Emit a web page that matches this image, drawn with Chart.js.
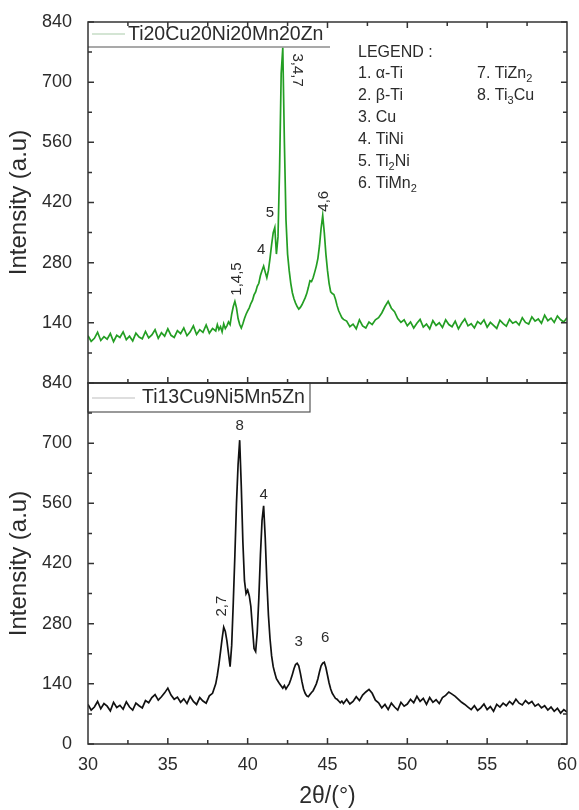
<!DOCTYPE html>
<html>
<head>
<meta charset="utf-8">
<script src="https://cdn.jsdelivr.net/npm/chart.js@4.4.1/dist/chart.umd.min.js"></script>
<style>
  html, body { margin: 0; padding: 0; background: #fff; }
</style>
</head>
<body>
<canvas id="xrd" width="579" height="810"></canvas>
<script>
const topColor = '#239e23';
const bottomColor = '#111111';
const textColor = '#2b2b2b';

const sampleTop = 'Ti20Cu20Ni20Mn20Zn';
const sampleBottom = 'Ti13Cu9Ni5Mn5Zn';

// 2theta positions (deg)
const angles = [
    30, 30.2, 30.4, 30.6, 30.8, 31, 31.2, 31.4, 31.6, 31.8,
    32, 32.2, 32.4, 32.6, 32.8, 33, 33.2, 33.4, 33.6, 33.8,
    34, 34.2, 34.4, 34.6, 34.8, 35, 35.2, 35.4, 35.6, 35.8,
    36, 36.2, 36.4, 36.6, 36.8, 37, 37.2, 37.4, 37.6, 37.8,
    38, 38.1, 38.2, 38.3, 38.4, 38.5, 38.6, 38.7, 38.8, 38.9,
    39, 39.1, 39.2, 39.3, 39.4, 39.5, 39.6, 39.7, 39.8, 39.9,
    40, 40.1, 40.2, 40.3, 40.4, 40.5, 40.6, 40.7, 40.8, 40.9,
    41, 41.1, 41.2, 41.3, 41.4, 41.5, 41.6, 41.7, 41.8, 41.9,
    42, 42.1, 42.2, 42.3, 42.4, 42.5, 42.6, 42.7, 42.8, 42.9,
    43, 43.1, 43.2, 43.3, 43.4, 43.5, 43.6, 43.7, 43.8, 43.9,
    44, 44.1, 44.2, 44.3, 44.4, 44.5, 44.6, 44.7, 44.8, 44.9,
    45, 45.1, 45.2, 45.3, 45.4, 45.5, 45.6, 45.7, 45.8, 45.9,
    46,
    46.2, 46.4, 46.6, 46.8, 47, 47.2, 47.4, 47.6, 47.8, 48,
    48.2, 48.4, 48.6, 48.8, 49, 49.2, 49.4, 49.6, 49.8, 50,
    50.2, 50.4, 50.6, 50.8, 51, 51.2, 51.4, 51.6, 51.8, 52,
    52.2, 52.4, 52.6, 52.8, 53, 53.2, 53.4, 53.6, 53.8, 54,
    54.2, 54.4, 54.6, 54.8, 55, 55.2, 55.4, 55.6, 55.8, 56,
    56.2, 56.4, 56.6, 56.8, 57, 57.2, 57.4, 57.6, 57.8, 58,
    58.2, 58.4, 58.6, 58.8, 59, 59.2, 59.4, 59.6, 59.8, 60
];

const intensityTop = [
    110, 97, 104, 118, 99, 108, 102, 115, 96, 111,
    106, 119, 101, 109, 98, 116, 107, 103, 120, 105,
    112, 124, 104, 117, 109, 126, 111, 106, 122, 115,
    128, 110, 119, 133, 113, 124, 118, 135, 116, 127,
    121, 136, 124, 131, 119, 138, 127, 133, 142, 136,
    160, 178, 190, 175, 150, 136, 128, 138, 150, 160,
    168, 175, 185, 192, 205, 212, 225, 232, 250, 262,
    272, 258, 245, 262, 290, 322, 350, 362, 300, 340,
    500, 720, 780, 560, 380, 300, 262, 232, 210, 196,
    186, 178, 172, 176, 182, 190, 198, 208, 222, 238,
    236, 245, 258, 272, 290, 320, 360, 390, 350, 300,
    262, 232, 212, 208, 206, 195, 180, 168, 160, 152,
    148,
    144, 131, 137, 126, 147, 133, 128, 142, 136, 147,
    152, 163, 178, 190, 174, 166, 150, 141, 147, 133,
    142, 128, 139, 148, 130, 137, 126, 145, 134, 140,
    129, 147, 136, 131, 144, 126, 139, 149, 133, 138,
    128, 143, 137, 147, 130, 141, 134, 127, 146, 138,
    132, 148, 139, 143, 135, 152, 141, 137, 154, 144,
    149, 139, 158, 145, 151, 141, 156, 147, 142, 152
];

const intensityBottom = [
    92, 79, 86, 99, 82, 94, 88, 77, 97, 85,
    90, 81, 98, 86, 79, 95, 89, 84, 101, 96,
    108, 115, 102, 110, 119, 130, 114, 104, 109, 97,
    105, 94, 111, 99, 92, 108, 100, 95, 112, 118,
    140, 160, 185, 215, 245, 272, 262, 240, 210, 180,
    230, 330, 440, 560, 650, 707, 600, 470, 380, 350,
    358, 345, 320, 270, 222, 215, 260, 340, 440, 520,
    554, 480, 380, 300, 245, 205, 180, 165, 152, 146,
    140, 135, 130, 136, 128, 134, 140, 150, 162, 175,
    185, 188, 182, 165, 145, 128, 118, 112, 110, 115,
    120, 124, 132, 140, 152, 168, 182, 188, 190, 178,
    160, 142, 128, 118, 112, 106, 104, 100, 96, 100,
    94,
    104, 93, 99, 110, 101, 114, 121, 127, 118, 102,
    96, 84, 92, 80, 95, 86, 79, 97, 88, 93,
    104, 96, 111, 99, 106, 92, 108, 97, 103, 94,
    108, 113, 121, 116, 111, 104, 97, 92, 86, 80,
    89, 78, 84, 93, 80, 87, 76, 92, 86, 95,
    89, 99, 92, 104, 95, 91, 101, 94, 99, 88,
    93, 84, 89, 79, 86, 76, 83, 72, 80, 74
];

// peak labels: text, 2theta, intensity, rotation
const peakLabelsTop = [
    { text: '1,4,5', x: 39.3, y: 242, rot: -90 },
    { text: '4', x: 40.85, y: 309, rot: 0 },
    { text: '5', x: 41.4, y: 395, rot: 0 },
    { text: '3,4,7', x: 43.1, y: 728, rot: 90 },
    { text: '4,6', x: 44.8, y: 423, rot: -90 }
];
const peakLabelsBottom = [
    { text: '2,7', x: 38.4, y: 321, rot: -90 },
    { text: '8', x: 39.5, y: 740, rot: 0 },
    { text: '4', x: 41.0, y: 579, rot: 0 },
    { text: '3', x: 43.2, y: 237, rot: 0 },
    { text: '6', x: 44.85, y: 247, rot: 0 }
];

const phaseCol1 = ['1. α-Ti', '2. β-Ti', '3. Cu', '4. TiNi', '5. Ti_2Ni', '6. TiMn_2'];
const phaseCol2 = ['7. TiZn_2', '8. Ti_3Cu'];

const fontFamily = 'Arial, "Liberation Sans", sans-serif';
Chart.defaults.font.family = fontFamily;
Chart.defaults.color = textColor;

function drawRich(ctx, text, x, y, size) {
    const parts = text.split(/_(\d)/);
    let cx = x;
    parts.forEach((p, i) => {
        const sub = i % 2 === 1;
        ctx.font = (sub ? Math.round(size * 0.7) : size) + 'px ' + fontFamily;
        ctx.fillText(p, cx, sub ? y + size * 0.32 : y);
        cx += ctx.measureText(p).width;
    });
}

function drawPeakLabels(ctx, labels, xs, ys) {
    ctx.font = '15px ' + fontFamily;
    ctx.fillStyle = textColor;
    ctx.textAlign = 'center';
    ctx.textBaseline = 'middle';
    labels.forEach(l => {
        ctx.save();
        ctx.translate(xs.getPixelForValue(l.x), ys.getPixelForValue(l.y));
        ctx.rotate(l.rot * Math.PI / 180);
        ctx.fillText(l.text, 0, 0);
        ctx.restore();
    });
}

function drawInnerTicks(ctx, xs, ys, sides) {
    const L = xs.left, R = xs.right, T = ys.top, B = ys.bottom;
    ctx.beginPath();
    ys.ticks.forEach(t => {
        [[t.value, 6], [t.value + 70, 4]].forEach(([v, len]) => {
            if (v > ys.max) return;
            const py = ys.getPixelForValue(v);
            ctx.moveTo(L, py); ctx.lineTo(L + len, py);
            ctx.moveTo(R, py); ctx.lineTo(R - len, py);
        });
    });
    xs.ticks.forEach(t => {
        [[t.value, 6], [t.value + 2.5, 4]].forEach(([v, len]) => {
            if (v >= xs.max || v <= xs.min) return;
            const px = xs.getPixelForValue(v);
            if (sides.top) { ctx.moveTo(px, T); ctx.lineTo(px, T + len); }
            if (sides.bottom) { ctx.moveTo(px, B); ctx.lineTo(px, B - len); }
        });
    });
    ctx.stroke();
}

const panelDecor = {
    id: 'panelDecor',
    afterDatasetsDraw(chart) {
        const { ctx, scales: { x, yTop, yBot } } = chart;
        ctx.save();

        // legend boxes (white, drawn over the traces)
        ctx.fillStyle = '#fff';
        ctx.fillRect(x.left, yTop.top, 242, 25);
        ctx.fillRect(x.left, yBot.top, 222, 29);
        ctx.strokeStyle = '#555';
        ctx.lineWidth = 1.2;
        ctx.beginPath();
        ctx.moveTo(x.left, yTop.top + 25);
        ctx.lineTo(x.left + 242, yTop.top + 25);
        ctx.stroke();
        ctx.strokeRect(x.left, yBot.top, 222, 29);

        ctx.lineWidth = 1;
        ctx.strokeStyle = '#a9cba9';
        ctx.beginPath();
        ctx.moveTo(x.left + 4, yTop.top + 12);
        ctx.lineTo(x.left + 37, yTop.top + 12);
        ctx.stroke();
        ctx.strokeStyle = '#bdbdbd';
        ctx.beginPath();
        ctx.moveTo(x.left + 4, yBot.top + 15);
        ctx.lineTo(x.left + 47, yBot.top + 15);
        ctx.stroke();

        ctx.fillStyle = textColor;
        ctx.textAlign = 'left';
        ctx.textBaseline = 'middle';
        ctx.font = '19.5px ' + fontFamily;
        ctx.fillText(sampleTop, x.left + 40, yTop.top + 13);
        ctx.fillText(sampleBottom, x.left + 54, yBot.top + 15);

        // frames and inward ticks
        ctx.strokeStyle = '#333';
        ctx.lineWidth = 1.5;
        [yTop, yBot].forEach(ys => {
            ctx.strokeRect(x.left, ys.top, x.right - x.left, ys.bottom - ys.top);
        });
        drawInnerTicks(ctx, x, yTop, { top: true, bottom: true });
        drawInnerTicks(ctx, x, yBot, { top: false, bottom: true });

        // peak labels
        drawPeakLabels(ctx, peakLabelsTop, x, yTop);
        drawPeakLabels(ctx, peakLabelsBottom, x, yBot);

        // phase legend
        ctx.fillStyle = textColor;
        ctx.textAlign = 'left';
        ctx.textBaseline = 'middle';
        const lx = x.left + 270, lx2 = x.left + 389, ly = yTop.top;
        ctx.font = '16px ' + fontFamily;
        ctx.fillText('LEGEND :', lx, ly + 31);
        phaseCol1.forEach((t, i) => drawRich(ctx, t, lx, ly + 52 + i * 22, 16));
        phaseCol2.forEach((t, i) => drawRich(ctx, t, lx2, ly + 52 + i * 22, 16));

        ctx.restore();
    }
};

function yScale(hideZero) {
    return {
        type: 'linear',
        position: 'left',
        stack: 'panels',
        stackWeight: 1,
        min: 0,
        max: 840,
        ticks: {
            stepSize: 140,
            padding: 8,
            font: { size: 18 },
            color: textColor,
            callback: v => (hideZero && v === 0) ? '' : v
        },
        grid: { display: false },
        border: { display: false },
        title: {
            display: true,
            text: 'Intensity (a.u)',
            font: { size: 24 },
            color: textColor,
            padding: { top: 5, bottom: 0 }
        },
        afterFit: s => { s.width = 88; }
    };
}

new Chart(document.getElementById('xrd'), {
    type: 'line',
    data: {
        datasets: [
            {
                label: sampleTop,
                data: angles.map((a, i) => ({ x: a, y: intensityTop[i] })),
                yAxisID: 'yTop',
                borderColor: topColor,
                borderWidth: 1.7,
                pointRadius: 0,
                tension: 0
            },
            {
                label: sampleBottom,
                data: angles.map((a, i) => ({ x: a, y: intensityBottom[i] })),
                yAxisID: 'yBot',
                borderColor: bottomColor,
                borderWidth: 1.7,
                pointRadius: 0,
                tension: 0
            }
        ]
    },
    options: {
        responsive: false,
        animation: false,
        devicePixelRatio: 1,
        layout: { padding: { top: 22, right: 6, left: 0, bottom: 0 } },
        plugins: {
            legend: { display: false },
            tooltip: { enabled: false }
        },
        scales: {
            x: {
                type: 'linear',
                min: 30,
                max: 60,
                ticks: { stepSize: 5, padding: 2, font: { size: 18 }, color: textColor },
                grid: { display: false },
                border: { display: false },
                title: {
                    display: true,
                    text: '2θ/(°)',
                    font: { size: 23 },
                    color: textColor,
                    padding: { top: 4, bottom: 0 }
                },
                afterFit: s => { s.height = 66; }
            },
            yBot: yScale(false),
            yTop: yScale(true)
        }
    },
    plugins: [panelDecor]
});
</script>
</body>
</html>
